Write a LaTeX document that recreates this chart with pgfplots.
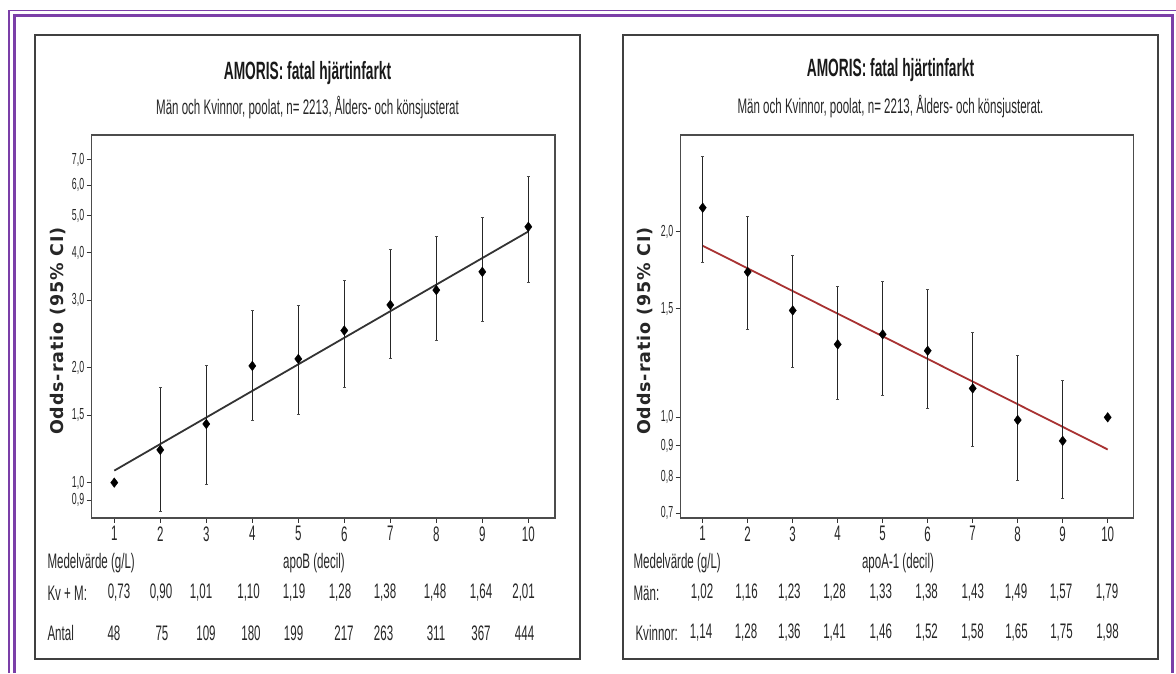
\documentclass[border=0pt]{standalone}
\usepackage{pgfplots}
\pgfplotsset{compat=1.18}
\usepackage{pgfplotstable}
\usepackage{fontspec}
\setmainfont{Liberation Sans}
\newfontfamily\cf{Liberation Sans}[FakeStretch=0.55]
\newfontfamily\vf{DejaVu Sans}[LetterSpace=5]
\definecolor{framec}{HTML}{7B3FA8}
\definecolor{fitred}{HTML}{A83232}

\pgfplotstableread{
x y lo hi
1 1.00 1.00 1.00
2 1.218 0.84 1.78
3 1.424 0.99 2.03
4 2.02 1.453 2.82
5 2.107 1.51 2.917
6 2.50 1.78 3.39
7 2.917 2.12 4.08
8 3.19 2.35 4.42
9 3.56 2.64 4.95
10 4.67 3.34 6.32
}\apoB

\pgfplotstableread{
x y lo hi
1 2.186 1.78 2.644
2 1.72 1.389 2.12
3 1.49 1.205 1.83
4 1.313 1.07 1.632
5 1.363 1.087 1.659
6 1.282 1.034 1.612
7 1.114 0.898 1.371
8 0.99 0.791 1.262
9 0.916 0.739 1.149
10 1.00 1.00 1.00
}\apoA

\pgfplotsset{
  orstyle/.style={
    scale only axis,
    axis line style={draw=black!70, line width=1.3pt},
    tick style={black!80, line width=0.9pt},
    major tick length=5pt,
    tick align=outside,
    xtick pos=bottom, ytick pos=left,
    minor tick num=0,
    xtick={1,2,3,4,5,6,7,8,9,10},
    xticklabels={1,2,3,4,5,6,7,8,9,10},
    xticklabel style={font=\cf\fontsize{21}{21}\selectfont, text=black!85, yshift=0pt},
    yticklabel style={font=\cf\fontsize{16}{16}\selectfont, text=black!85, xshift=1pt},
    clip=false,
  },
}

\begin{document}
\begin{tikzpicture}[x=1pt,y=1pt]
\useasboundingbox (0,0) rectangle (1176,673);
% outer purple frame
\draw[framec, line width=1.8pt] (9.3,0) -- (9.3,662.5) -- (1176,662.5);
\draw[framec, line width=3pt] (14.5,0) -- (14.5,657.5) -- (1172.5,657.5) -- (1172.5,0);
% panel boxes
\draw[black!75, line width=1.5pt] (35,14) rectangle (580,638);
\draw[black!75, line width=1.5pt] (623,14) rectangle (1158,638);

% ---------------- left panel ----------------
\begin{axis}[ymode=log, orstyle, anchor=south west, at={(91.7pt,155pt)}, width=463.3pt, height=383pt,
  xmin=0.509, xmax=10.58, ymin=0.808, ymax=8.12,
  ytick={0.9,1,1.5,2,3,4,5,6,7},
  yticklabels={{0,9},{1,0},{1,5},{2,0},{3,0},{4,0},{5,0},{6,0},{7,0}}]
\addplot[black!80, line width=1.8pt] coordinates {(1,1.075) (10,4.54)};
\addplot[only marks, black, mark=diamond*, mark size=4.8pt,
  error bars/y dir=both, error bars/y explicit,
  error bars/error bar style={line width=1.4pt, black!85},
  error bars/error mark options={rotate=90, mark size=1.5pt, line width=0.6pt, black!70}]
  table[x=x, y=y, y error plus expr=\thisrow{hi}-\thisrow{y}, y error minus expr=\thisrow{y}-\thisrow{lo}] {\apoB};
\end{axis}

% ---------------- right panel ----------------
\begin{axis}[ymode=log, orstyle, anchor=south west, at={(680.7pt,155pt)}, width=452.6pt, height=383pt,
  xmin=0.511, xmax=10.569, ymin=0.687, ymax=2.867,
  ytick={0.7,0.8,0.9,1,1.5,2},
  yticklabels={{0,7},{0,8},{0,9},{1,0},{1,5},{2,0}}]
\addplot[fitred, line width=1.8pt] coordinates {(1,1.897) (10,0.887)};
\addplot[only marks, black, mark=diamond*, mark size=4.8pt,
  error bars/y dir=both, error bars/y explicit,
  error bars/error bar style={line width=1.4pt, black!85},
  error bars/error mark options={rotate=90, mark size=1.5pt, line width=0.6pt, black!70}]
  table[x=x, y=y, y error plus expr=\thisrow{hi}-\thisrow{y}, y error minus expr=\thisrow{y}-\thisrow{lo}] {\apoA};
\end{axis}

% titles
\node[font=\cf\bfseries\fontsize{25}{25}\selectfont, text=black!90] at (307.5,600) {AMORIS: fatal hjärtinfarkt};
\node[font=\cf\fontsize{21}{21}\selectfont, text=black!85] at (307.5,565) {Män och Kvinnor, poolat, n= 2213, Ålders- och könsjusterat};
\node[font=\cf\bfseries\fontsize{25}{25}\selectfont, text=black!90] at (890.5,603) {AMORIS: fatal hjärtinfarkt};
\node[font=\cf\fontsize{21}{21}\selectfont, text=black!85] at (890.5,566) {Män och Kvinnor, poolat, n= 2213, Ålders- och könsjusterat.};

% y labels
\node[font=\vf\bfseries\fontsize{17.5}{17.5}\selectfont, text=black!85, rotate=90] at (58,342) {Odds-ratio (95\% CI)};
\node[font=\vf\bfseries\fontsize{17.5}{17.5}\selectfont, text=black!85, rotate=90] at (645,342) {Odds-ratio (95\% CI)};

% bottom rows
\begin{scope}[every node/.style={font=\cf\fontsize{21}{21}\selectfont, text=black!85}]
\node[anchor=west] at (44,110) {Medelvärde (g/L)};
\node at (314,110) {apoB (decil)};
\node[anchor=west] at (44,80) {Kv + M:};
\node[anchor=west] at (44,40) {Antal};
\foreach \xx/\t in {119/{0,73},161/{0,90},201/{1,01},248.6/{1,10},294/{1,19},340/{1,28},385/{1,38},435/{1,48},481/{1,64},523.6/{2,01}}
  \node at (\xx,80) {\t};
\foreach \xx/\t in {114/48,162/75,206/109,251/180,293.6/199,344/217,383.6/263,436/311,481/367,524.6/444}
  \node at (\xx,40) {\t};
\node[anchor=west] at (630,110) {Medelvärde (g/L)};
\node at (898,110) {apoA-1 (decil)};
\node[anchor=west] at (630,80) {Män:};
\node[anchor=west] at (632,40) {Kvinnor:};
\foreach \xx/\t in {702/{1,02},746.5/{1,16},789.4/{1,23},834.5/{1,28},880.8/{1,33},926.6/{1,38},972.8/{1,43},1016/{1,49},1061/{1,57},1107/{1,79}}
  \node at (\xx,80) {\t};
\foreach \xx/\t in {701/{1,14},746/{1,28},789.4/{1,36},834.5/{1,41},880.8/{1,46},926.6/{1,52},972.5/{1,58},1016.5/{1,65},1061.5/{1,75},1107.5/{1,98}}
  \node at (\xx,40) {\t};
\end{scope}
\end{tikzpicture}
\end{document}
